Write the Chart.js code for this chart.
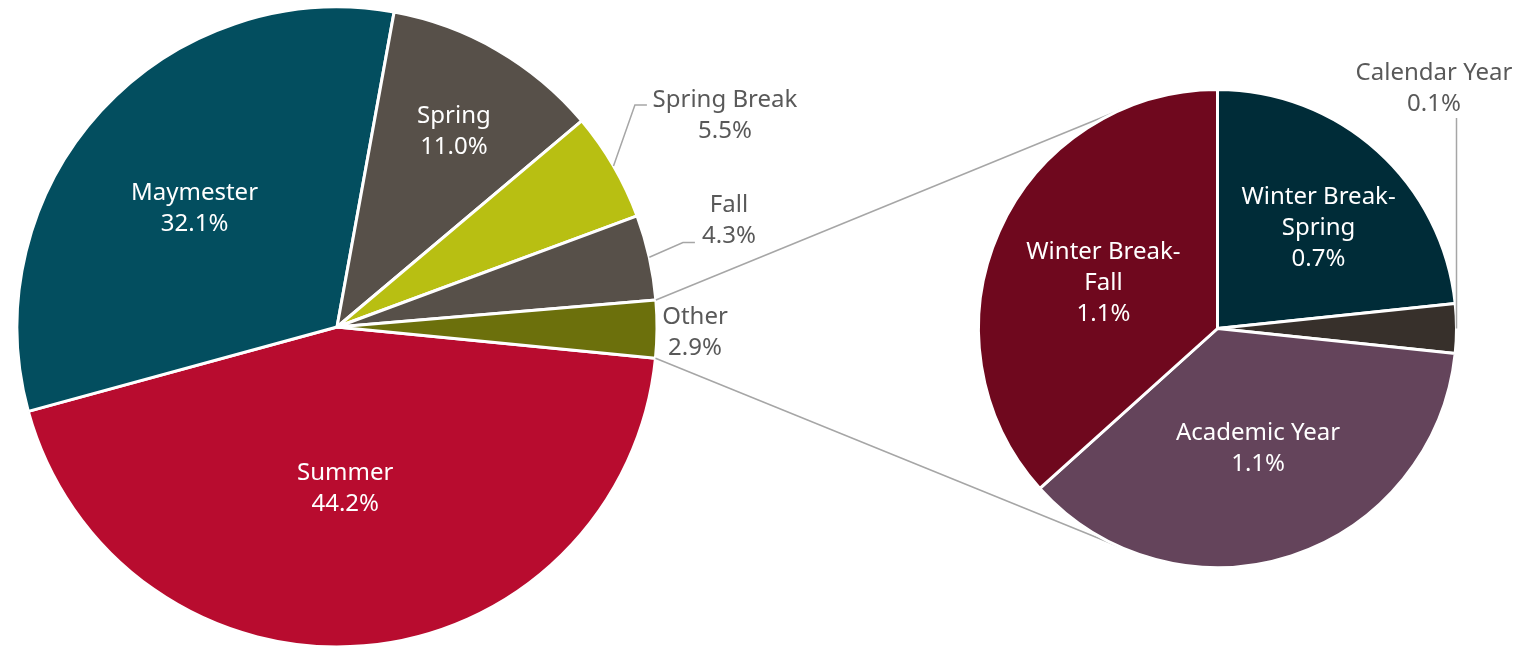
<!DOCTYPE html>
<html><head><meta charset="utf-8">
<script src="https://cdn.jsdelivr.net/npm/chart.js@4.4.0/dist/chart.umd.min.js"></script>
<style>
html,body{margin:0;padding:0;background:#fff;overflow:hidden}
#wrap{position:relative;width:1518px;height:647px}
canvas{position:absolute;left:0;top:0}
</style></head><body>
<div id="wrap"><canvas id="main" width="1518" height="647"></canvas><canvas id="sub" width="1518" height="647"></canvas></div>
<script>
// ---- data ----
const mainCategories = ['Summer', 'Maymester', 'Spring', 'Spring Break', 'Fall', 'Other'];
const mainValues = [44.2, 32.1, 11.0, 5.5, 4.3, 2.9];
const subCategories = ['Winter Break-Spring', 'Calendar Year', 'Academic Year', 'Winter Break-Fall'];
const subValues = [0.7, 0.1, 1.1, 1.1];

// ---- styles ----
const mainColors = ['#b80c2f', '#034e5f', '#575049', '#b8bf12', '#575049', '#6c700c'];
const subColors = ['#002c38', '#37302b', '#64445b', '#6f081e'];
const FONT = '24px "Noto Sans"';
const CAP_HALF = 8.6;   // half cap height of the label font, to centre lines on caps
const LINE_H = 31;
const LEADER = '#a6a6a6';

// label placement (style): inside = fraction of radius + angle shift from slice middle;
// outside = offset from the slice's outer-edge midpoint, with leader elbow offsets
const mainLabelSpecs = [
  {type: 'in', rf: 0.50, da: 1.9},
  {type: 'in', rf: 0.582, da: -2.4},
  {type: 'in', rf: 0.716, da: 0.6},
  {type: 'out', dx: 111.4, dy: -52.5, leader: [[21.4, -61], [33.4, -61]]},
  {type: 'out', dx: 79.6, dy: -38.7, leader: [[33.6, -14.7], [45.6, -14.7]]},
  {type: 'out', dx: 38, dy: 1.8}
];
const subLabelSpecs = [
  {type: 'in', rf: 0.602, da: 2.6},
  {type: 'out', dx: -22.5, dy: -241.5, leader: [[0, -210.5]]},
  {type: 'in', rf: 0.524, da: -0.9},
  {type: 'in', rf: 0.517, da: -1.4}
];

function splitLabel(s) {
  const i = s.indexOf('-');
  return i > 0 ? [s.slice(0, i + 1), s.slice(i + 1)] : [s];
}

const labelPlugin = {
  id: 'sliceLabels',
  afterDatasetsDraw(chart, args, opts) {
    const ctx = chart.ctx;
    const meta = chart.getDatasetMeta(0);
    const cats = chart.data.labels;
    const vals = chart.data.datasets[0].data;
    meta.data.forEach((arc, i) => {
      const p = arc.getProps(['x', 'y', 'startAngle', 'endAngle', 'outerRadius'], true);
      const mid = (p.startAngle + p.endAngle) / 2;
      const spec = opts.specs[i];
      const lines = splitLabel(cats[i]).concat([vals[i].toFixed(1) + '%']);
      ctx.save();
      ctx.font = FONT;
      ctx.textAlign = 'center';
      ctx.textBaseline = 'alphabetic';
      let cx, cy;
      if (spec.type === 'in') {
        const a = mid + spec.da * Math.PI / 180;
        cx = p.x + Math.cos(a) * p.outerRadius * spec.rf;
        cy = p.y + Math.sin(a) * p.outerRadius * spec.rf;
        ctx.fillStyle = '#ffffff';
      } else {
        const ax = p.x + Math.cos(mid) * p.outerRadius;
        const ay = p.y + Math.sin(mid) * p.outerRadius;
        if (spec.leader) {
          ctx.strokeStyle = LEADER;
          ctx.lineWidth = 1.5;
          ctx.beginPath();
          ctx.moveTo(ax, ay);
          spec.leader.forEach(([dx, dy]) => ctx.lineTo(ax + dx, ay + dy));
          ctx.stroke();
        }
        cx = ax + spec.dx;
        cy = ay + spec.dy;
        ctx.fillStyle = '#595959';
      }
      const n = lines.length;
      lines.forEach((t, k) => {
        ctx.fillText(t, cx, cy + (k - (n - 1) / 2) * LINE_H + CAP_HALF);
      });
      ctx.restore();
    });
  }
};

let mainChart;
const connectorPlugin = {
  id: 'connectors',
  beforeDatasetsDraw(chart) {
    if (!mainChart) return;
    const mMeta = mainChart.getDatasetMeta(0);
    const other = mMeta.data[mainCategories.indexOf('Other')].getProps(['x', 'y', 'startAngle', 'endAngle', 'outerRadius'], true);
    const s = chart.getDatasetMeta(0).data[0].getProps(['x', 'y', 'outerRadius'], true);
    const R = s.outerRadius;
    const ends = [
      [other.x + Math.cos(other.startAngle) * other.outerRadius, other.y + Math.sin(other.startAngle) * other.outerRadius, 1],
      [other.x + Math.cos(other.endAngle) * other.outerRadius, other.y + Math.sin(other.endAngle) * other.outerRadius, -1]
    ];
    const ctx = chart.ctx;
    ctx.save();
    ctx.strokeStyle = LEADER;
    ctx.lineWidth = 1.5;
    ends.forEach(([ax, ay, sign]) => {
      const dx = ax - s.x, dy = ay - s.y;
      const d = Math.hypot(dx, dy);
      const th = Math.atan2(dy, dx) + sign * Math.acos(R / d);
      ctx.beginPath();
      ctx.moveTo(ax, ay);
      ctx.lineTo(s.x + Math.cos(th) * R, s.y + Math.sin(th) * R);
      ctx.stroke();
    });
    ctx.restore();
  }
};

const common = {
  responsive: false,
  animation: false,
  events: [],
  devicePixelRatio: 1
};

mainChart = new Chart(document.getElementById('main'), {
  type: 'pie',
  data: {
    labels: mainCategories,
    datasets: [{data: mainValues, backgroundColor: mainColors, borderColor: '#ffffff', borderWidth: 3}]
  },
  options: Object.assign({}, common, {
    rotation: 95.6,
    radius: 320,
    layout: {padding: {left: 17, right: 861, top: 7, bottom: 0}},
    plugins: {legend: {display: false}, tooltip: {enabled: false}, sliceLabels: {specs: mainLabelSpecs}}
  }),
  plugins: [labelPlugin]
});

new Chart(document.getElementById('sub'), {
  type: 'pie',
  data: {
    labels: subCategories,
    datasets: [{data: subValues, backgroundColor: subColors, borderColor: '#ffffff', borderWidth: 3}]
  },
  options: Object.assign({}, common, {
    rotation: 0,
    radius: 239,
    layout: {padding: {left: 978, right: 61, top: 90, bottom: 80}},
    plugins: {legend: {display: false}, tooltip: {enabled: false}, sliceLabels: {specs: subLabelSpecs}}
  }),
  plugins: [connectorPlugin, labelPlugin]
});
</script>
</body></html>
